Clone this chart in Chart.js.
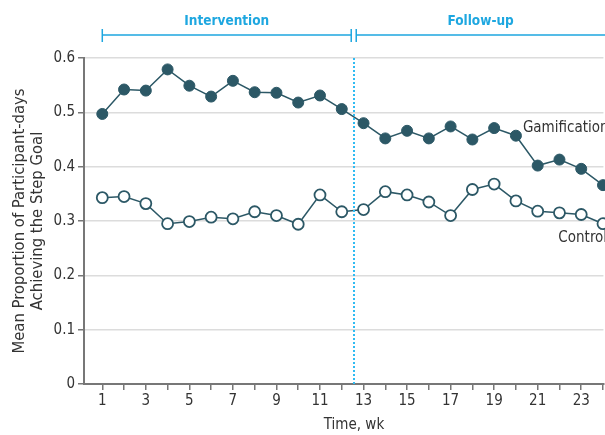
<!DOCTYPE html>
<html>
<head>
<meta charset="utf-8">
<script src="https://cdn.jsdelivr.net/npm/chart.js@4"></script>
<style>
  html, body { margin: 0; padding: 0; background: #fff; }
  #wrap { width: 605px; height: 435px; }
</style>
</head>
<body>
<div id="wrap"><canvas id="chart" width="605" height="435"></canvas></div>
<script>
var weeks = [1, 2, 3, 4, 5, 6, 7, 8, 9, 10, 11, 12, 13, 14, 15, 16, 17, 18, 19, 20, 21, 22, 23, 24];
var gamification = [0.497, 0.542, 0.540, 0.579, 0.549, 0.529, 0.558, 0.537, 0.536, 0.518, 0.531, 0.506,
                    0.480, 0.452, 0.466, 0.452, 0.474, 0.450, 0.471, 0.457, 0.402, 0.413, 0.396, 0.366];
var control = [0.343, 0.345, 0.332, 0.295, 0.299, 0.307, 0.304, 0.317, 0.310, 0.294, 0.348, 0.317,
               0.321, 0.354, 0.348, 0.335, 0.310, 0.358, 0.368, 0.337, 0.318, 0.315, 0.312, 0.295];
var yTicks = [0, 0.1, 0.2, 0.3, 0.4, 0.5, 0.6];
var phaseSplit = 12.55;

var FONT = "'DejaVu Sans Condensed', 'DejaVu Sans', sans-serif";
var DARK = '#2c5866';
var BLUE = '#1ea7e0';

Chart.defaults.font.family = FONT;
Chart.defaults.font.size = 15;
Chart.defaults.color = '#333';

function toPoints(vals) {
  return weeks.map(function(w, i) { return { x: w, y: vals[i] }; });
}

// brackets, dotted split line, series labels and axis titles
var extras = {
  id: 'extras',
  afterDraw: function(chart) {
    var ctx = chart.ctx;
    var x = chart.scales.x, y = chart.scales.y;
    var area = chart.chartArea;
    var split = x.getPixelForValue(phaseSplit);

    ctx.save();
    // dotted split line
    ctx.strokeStyle = '#30bbf2';
    ctx.lineWidth = 2;
    ctx.setLineDash([2, 2]);
    ctx.beginPath();
    ctx.moveTo(Math.round(split), area.top);
    ctx.lineTo(Math.round(split), area.bottom);
    ctx.stroke();
    ctx.setLineDash([]);

    // top brackets
    var by = 35;
    var x1 = x.getPixelForValue(1);
    ctx.strokeStyle = BLUE;
    ctx.lineWidth = 1.5;
    ctx.beginPath();
    ctx.moveTo(x1, by); ctx.lineTo(split - 2.5, by);
    ctx.moveTo(x1, by - 6); ctx.lineTo(x1, by + 7);
    ctx.moveTo(split - 2.5, by - 6); ctx.lineTo(split - 2.5, by + 7);
    ctx.moveTo(split + 2.5, by - 6); ctx.lineTo(split + 2.5, by + 7);
    ctx.moveTo(split + 2.5, by); ctx.lineTo(chart.width, by);
    ctx.stroke();

    ctx.fillStyle = BLUE;
    ctx.font = 'bold 13.5px ' + FONT;
    ctx.textAlign = 'center';
    ctx.textBaseline = 'middle';
    ctx.fillText('Intervention', (x1 + split - 2.5) / 2, 21);
    ctx.fillText('Follow-up', (split + 2.5 + chart.width) / 2, 21);

    // series labels
    ctx.fillStyle = '#333';
    ctx.font = '15px ' + FONT;
    ctx.textAlign = 'left';
    ctx.fillText('Gamification', x.getPixelForValue(20.32), y.getPixelForValue(0.471));
    ctx.fillText('Control', x.getPixelForValue(21.95), y.getPixelForValue(0.269));

    // axis titles
    ctx.textAlign = 'center';
    ctx.fillText('Time, wk', 354, 425);
    ctx.font = '16.5px ' + FONT;
    ctx.translate(0, (area.top + area.bottom) / 2);
    ctx.rotate(-Math.PI / 2);
    ctx.fillText('Mean Proportion of Participant-days', 0, 20);
    ctx.fillText('Achieving the Step Goal', 0, 38);
    ctx.restore();
  }
};

var ctx = document.getElementById('chart').getContext('2d');
var config = {
  type: 'line',
  data: {
    datasets: [{
      label: 'Gamification',
      data: toPoints(gamification),
      borderColor: DARK,
      borderWidth: 1.5,
      backgroundColor: DARK,
      pointBackgroundColor: DARK,
      pointBorderColor: DARK,
      pointBorderWidth: 1,
      pointRadius: 5.5,
      clip: false
    }, {
      label: 'Control',
      data: toPoints(control),
      borderColor: DARK,
      borderWidth: 1.5,
      backgroundColor: '#fff',
      pointBackgroundColor: '#fff',
      pointBorderColor: DARK,
      pointBorderWidth: 1.8,
      pointRadius: 5.5,
      clip: false
    }]
  },
  options: {
    responsive: false,
    animation: false,
    layout: { autoPadding: false, padding: { top: 58, right: 0, left: 0, bottom: 0 } },
    plugins: {
      legend: { display: false },
      title: { display: false },
      tooltip: { enabled: false }
    },
    scales: {
      x: {
        type: 'linear',
        min: 0.16,
        max: 24.02,
        afterBuildTicks: function(scale) {
          scale.ticks = weeks.map(function(w) { return { value: w }; });
        },
        afterFit: function(scale) { scale.height = 51; },
        ticks: {
          autoSkip: false,
          maxRotation: 0,
          padding: 2,
          color: '#333',
          callback: function(v) { return v % 2 === 1 ? String(v) : ''; }
        },
        grid: { drawOnChartArea: false, tickLength: 6, tickColor: '#777', lineWidth: 1.5 },
        border: { display: true, color: '#777', width: 2 }
      },
      y: {
        min: 0,
        max: 0.6,
        afterBuildTicks: function(scale) {
          scale.ticks = yTicks.map(function(v) { return { value: v }; });
        },
        afterFit: function(scale) { scale.width = 84; },
        ticks: {
          padding: 3,
          color: '#333',
          callback: function(v) { return v === 0 ? '0' : v.toFixed(1); }
        },
        grid: { color: '#dcdcdc', lineWidth: 1.5, tickLength: 6, tickColor: '#777' },
        border: { display: true, color: '#777', width: 2 }
      }
    }
  },
  plugins: [extras]
};

var myChart = new Chart(ctx, config);
</script>
</body>
</html>
